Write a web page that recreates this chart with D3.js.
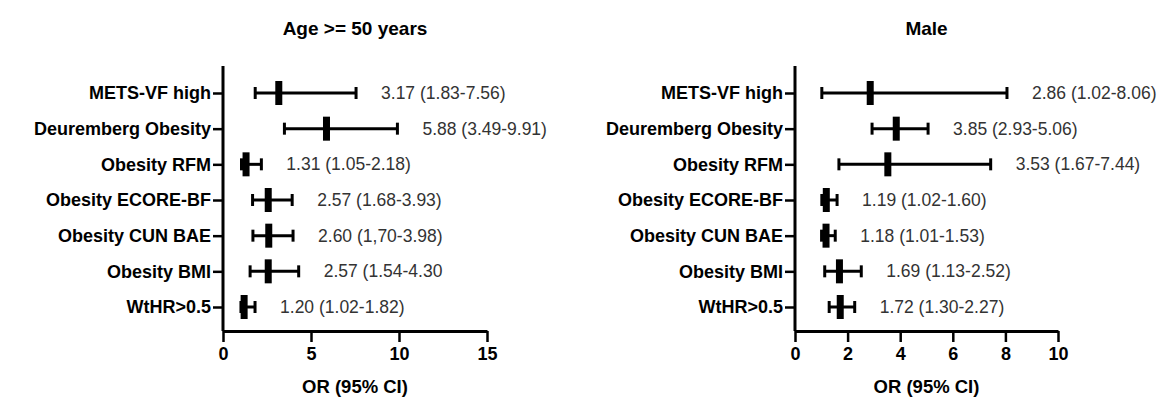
<!DOCTYPE html>
<html>
<head>
<meta charset="utf-8">
<script src="https://cdn.jsdelivr.net/npm/d3@7"></script>
<style>
  body { margin: 0; background: #fff; }
  svg text { font-family: "Liberation Sans", Arial, sans-serif; }
</style>
</head>
<body>
<div id="chart"></div>
<script>
// forest plot data
const categories = ["METS-VF high", "Deuremberg Obesity", "Obesity RFM", "Obesity ECORE-BF",
                    "Obesity CUN BAE", "Obesity BMI", "WtHR>0.5"];

const ageOR = [3.17, 5.88, 1.31, 2.57, 2.60, 2.57, 1.20];
const ageLo = [1.83, 3.49, 1.05, 1.68, 1.70, 1.54, 1.02];
const ageHi = [7.56, 9.91, 2.18, 3.93, 3.98, 4.30, 1.82];
const ageText = ["3.17 (1.83-7.56)", "5.88 (3.49-9.91)", "1.31 (1.05-2.18)", "2.57 (1.68-3.93)",
                 "2.60 (1,70-3.98)", "2.57 (1.54-4.30", "1.20 (1.02-1.82)"];
const ageTicks = [0, 5, 10, 15];

const maleOR = [2.86, 3.85, 3.53, 1.19, 1.18, 1.69, 1.72];
const maleLo = [1.02, 2.93, 1.67, 1.02, 1.01, 1.13, 1.30];
const maleHi = [8.06, 5.06, 7.44, 1.60, 1.53, 2.52, 2.27];
const maleText = ["2.86 (1.02-8.06)", "3.85 (2.93-5.06)", "3.53 (1.67-7.44)", "1.19 (1.02-1.60)",
                  "1.18 (1.01-1.53)", "1.69 (1.13-2.52)", "1.72 (1.30-2.27)"];
const maleTicks = [0, 2, 4, 6, 8, 10];

const W = 1167, H = 400;

const svg = d3.select("#chart").append("svg")
    .attr("width", W)
    .attr("height", H);

function drawPanel(opts) {
    let rows = categories.map((c, i) => ({
        cat: c, or: opts.or[i], lo: opts.lo[i], hi: opts.hi[i], txt: opts.text[i]
    }));

    let x = d3.scaleLinear()
        .domain([0, opts.max])
        .range([opts.x0, opts.x1]);

    let y = d3.scalePoint()
        .domain(categories)
        .range([93, 307]);

    let g = svg.append("g");

    // title
    g.append("text")
        .attr("x", (opts.x0 + opts.x1) / 2)
        .attr("y", 35)
        .attr("text-anchor", "middle")
        .attr("font-size", 19)
        .attr("font-weight", "bold")
        .text(opts.title);

    // y axis
    let yAxis = d3.axisLeft(y).tickSize(10).tickPadding(2);
    let yg = g.append("g")
        .attr("transform", "translate(" + opts.x0 + ",0)")
        .call(yAxis);
    yg.select(".domain").attr("d", "M0,66V331").attr("stroke-width", 3);
    yg.selectAll(".tick line").attr("stroke-width", 2.5);
    yg.selectAll(".tick text")
        .attr("font-size", 18)
        .attr("font-weight", "bold")
        .attr("fill", "#000")
        .attr("font-family", "Liberation Sans, Arial, sans-serif");

    // x axis
    let xAxis = d3.axisBottom(x).tickValues(opts.ticks).tickSize(11).tickPadding(5)
        .tickSizeOuter(0);
    let xg = g.append("g")
        .attr("transform", "translate(0,331)")
        .call(xAxis);
    xg.select(".domain").attr("stroke-width", 3);
    xg.selectAll(".tick line").attr("stroke-width", 2.5);
    xg.selectAll(".tick text")
        .attr("font-size", 18)
        .attr("font-weight", "bold")
        .attr("fill", "#000")
        .attr("font-family", "Liberation Sans, Arial, sans-serif");

    // x axis title
    g.append("text")
        .attr("x", (opts.x0 + opts.x1) / 2)
        .attr("y", 393)
        .attr("text-anchor", "middle")
        .attr("font-size", 18.5)
        .attr("font-weight", "bold")
        .text("OR (95% CI)");

    let marks = g.selectAll(".row").data(rows).enter().append("g")
        .attr("class", "row")
        .attr("transform", d => "translate(0," + y(d.cat) + ")");

    // whisker
    marks.append("line")
        .attr("x1", d => x(d.lo))
        .attr("x2", d => x(d.hi))
        .attr("stroke", "#000")
        .attr("stroke-width", 3);

    // caps
    marks.append("line")
        .attr("x1", d => x(d.lo)).attr("x2", d => x(d.lo))
        .attr("y1", -6).attr("y2", 6)
        .attr("stroke", "#000").attr("stroke-width", 3);
    marks.append("line")
        .attr("x1", d => x(d.hi)).attr("x2", d => x(d.hi))
        .attr("y1", -6).attr("y2", 6)
        .attr("stroke", "#000").attr("stroke-width", 3);

    // point estimate
    marks.append("rect")
        .attr("x", d => x(d.or) - 3.5)
        .attr("y", -12)
        .attr("width", 7)
        .attr("height", 24)
        .attr("fill", "#000");

    // value labels
    marks.append("text")
        .attr("x", d => x(d.hi) + 25)
        .attr("dy", "0.35em")
        .attr("font-size", 17.5)
        .attr("fill", "#333")
        .text(d => d.txt);
}

drawPanel({title: "Age >= 50 years", or: ageOR, lo: ageLo, hi: ageHi, text: ageText,
           ticks: ageTicks, max: 15, x0: 223, x1: 487});
drawPanel({title: "Male", or: maleOR, lo: maleLo, hi: maleHi, text: maleText,
           ticks: maleTicks, max: 10, x0: 795, x1: 1058});
</script>
</body>
</html>
